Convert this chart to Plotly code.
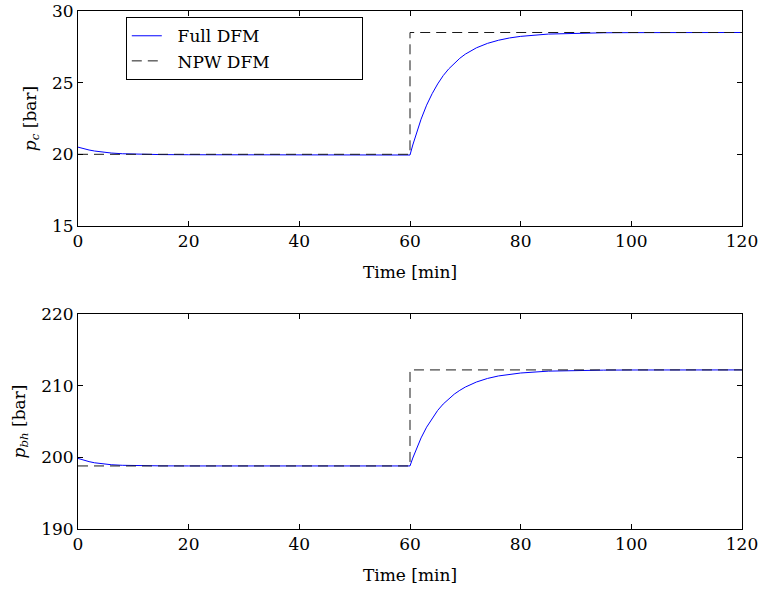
import plotly.graph_objects as go
from plotly.subplots import make_subplots

# Time axis for the full DFM response [min]
t_full = [0, 1, 2, 3, 4, 6, 8, 10, 12, 15, 20, 30, 40, 50, 60,
          60.5, 61, 61.5, 62, 63, 64, 65, 66, 67, 68, 69, 70, 72, 74, 76, 78, 80,
          85, 90, 95, 100, 110, 120]

# Casing pressure p_c [bar], Full DFM
pc_full = [20.50, 20.39, 20.30, 20.23, 20.17, 20.09, 20.04, 20.01, 19.99, 19.98, 19.97, 19.96, 19.95, 19.95, 19.95,
           20.65, 21.30, 21.90, 22.45, 23.43, 24.23, 24.91, 25.49, 25.96, 26.36, 26.70, 26.99, 27.43, 27.74, 27.96, 28.12, 28.23,
           28.39, 28.45, 28.48, 28.49, 28.50, 28.50]

# Bottom-hole pressure p_bh [bar], Full DFM
pbh_full = [199.85, 199.60, 199.40, 199.24, 199.12, 198.97, 198.89, 198.85, 198.83, 198.81, 198.80, 198.80, 198.80, 198.80, 198.80,
            199.90, 200.90, 201.85, 202.71, 204.21, 205.47, 206.55, 207.44, 208.20, 208.82, 209.35, 209.81, 210.51, 211.01, 211.36, 211.60, 211.77,
            212.03, 212.12, 212.17, 212.19, 212.20, 212.20]

# NPW DFM (step response)
t_npw = [0, 60, 60, 120]
pc_npw = [20.0, 20.0, 28.5, 28.5]
pbh_npw = [198.8, 198.8, 212.2, 212.2]

x_ticks = [0, 20, 40, 60, 80, 100, 120]
pc_ticks = [15, 20, 25, 30]
pbh_ticks = [190, 200, 210, 220]

FONT = "DejaVu Serif"
FS = 17
BLUE = "#0000ff"
DASH = "#1a1a1a"
PAD = "\u00a0" * 16

fig = make_subplots(rows=2, cols=1, vertical_spacing=0.17)

fig.add_trace(go.Scatter(x=t_full, y=pc_full, mode="lines", name="\u00a0\u00a0Full DFM" + PAD,
                         line=dict(color=BLUE, width=1)), row=1, col=1)
fig.add_trace(go.Scatter(x=t_npw, y=pc_npw, mode="lines", name="\u00a0\u00a0NPW DFM" + PAD,
                         line=dict(color=DASH, width=1, dash="10px,6px")), row=1, col=1)
fig.add_trace(go.Scatter(x=t_full, y=pbh_full, mode="lines", name="Full DFM", showlegend=False,
                         line=dict(color=BLUE, width=1)), row=2, col=1)
fig.add_trace(go.Scatter(x=t_npw, y=pbh_npw, mode="lines", name="NPW DFM", showlegend=False,
                         line=dict(color=DASH, width=1, dash="10px,6px")), row=2, col=1)

axis_common = dict(showline=True, linecolor="black", linewidth=1, mirror="ticks",
                   ticks="inside", ticklen=5, tickcolor="black", showgrid=False, zeroline=False,
                   automargin=False,
                   tickfont=dict(family=FONT, size=FS, color="black"))

fig.update_xaxes(range=[0, 120], tickvals=x_ticks,
                 title=dict(text="Time [min]", font=dict(family=FONT, size=FS, color="black"), standoff=15),
                 **axis_common)
fig.update_yaxes(range=[15, 30], tickvals=pc_ticks,
                 title=dict(text="<i>p</i><sub><i>c</i></sub> [bar]", font=dict(family=FONT, size=FS, color="black"), standoff=11),
                 row=1, col=1, **axis_common)
fig.update_yaxes(range=[190, 220], tickvals=pbh_ticks,
                 title=dict(text="<i>p</i><sub><i>bh</i></sub> [bar]", font=dict(family=FONT, size=FS, color="black"), standoff=11),
                 row=2, col=1, **axis_common)

fig.update_layout(
    width=761, height=590,
    margin=dict(l=78, r=19, t=11, b=61, autoexpand=False),
    paper_bgcolor="white", plot_bgcolor="white",
    font=dict(family=FONT, size=FS, color="black"),
    xaxis=dict(domain=[0, 1]),
    yaxis=dict(domain=[0.585, 1.0]),
    yaxis2=dict(domain=[0.0, 0.415]),
    legend=dict(x=0.072, y=0.988, xanchor="left", yanchor="top",
                bgcolor="white", bordercolor="black", borderwidth=1,
                font=dict(family=FONT, size=FS, color="black"),
                tracegroupgap=0),
)

fig.write_html("out.html")
